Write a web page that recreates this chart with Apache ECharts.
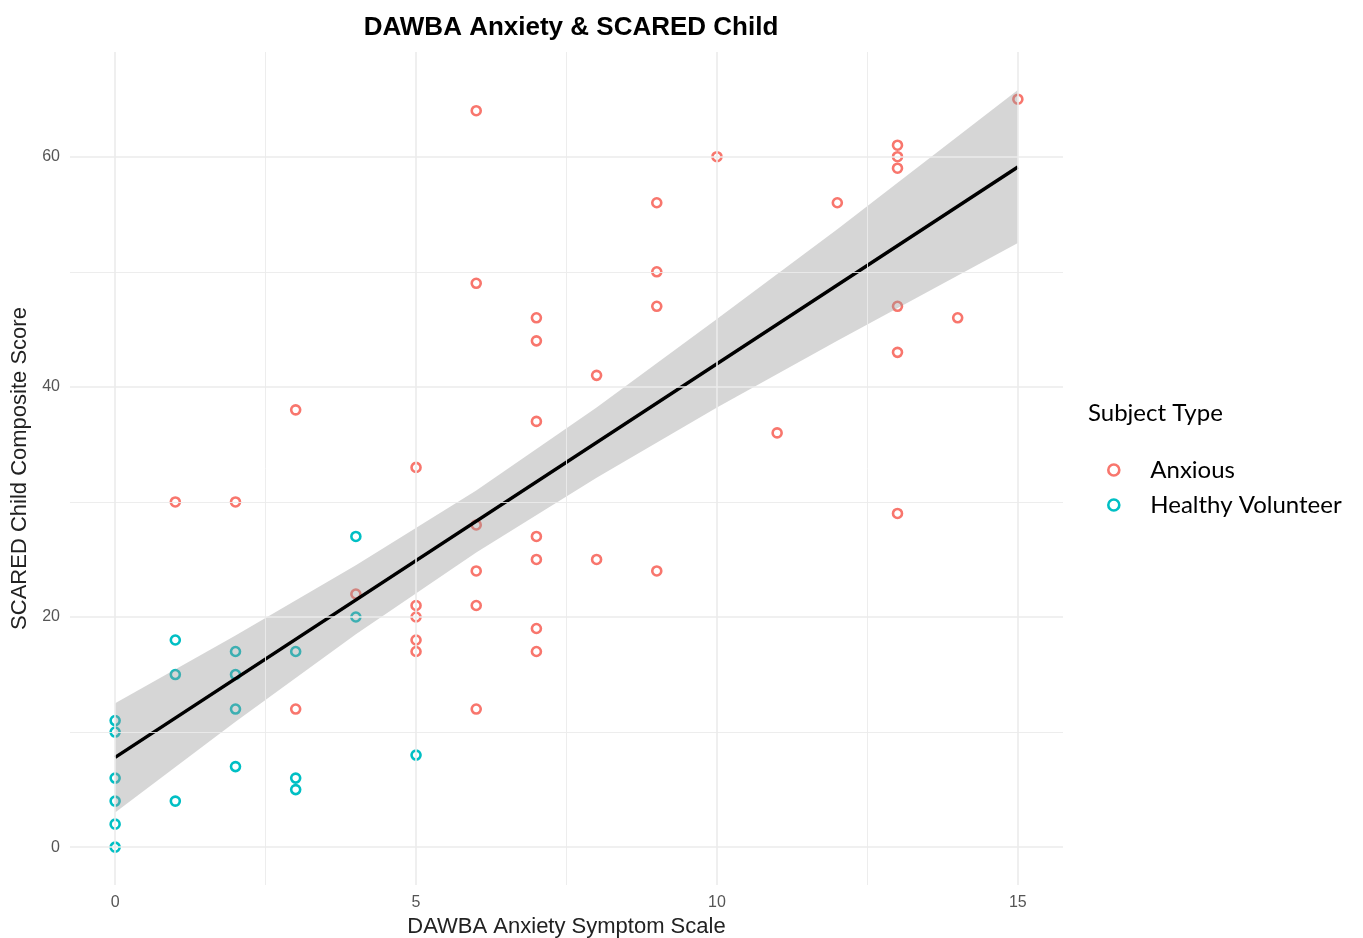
<!DOCTYPE html>
<html>
<head>
<meta charset="utf-8">
<script src="https://cdn.jsdelivr.net/npm/echarts@6/dist/echarts.min.js"></script>
<style>
  html, body { margin: 0; padding: 0; background: #fff; }
  #chart { width: 1363px; height: 938px; }
</style>
</head>
<body>
<div id="chart"></div>
<script>
// puntos del grupo ansioso
const anxiousX = [6, 15, 10, 13, 13, 13, 9, 12, 9, 6, 9, 13, 7, 14, 7, 13, 8, 3, 7, 11, 5, 1, 2, 13, 6, 7, 7, 8, 6, 9, 4, 5, 6, 5, 7, 5, 5, 7, 3, 6];
const anxiousY = [64, 65, 60, 61, 60, 59, 56, 56, 50, 49, 47, 47, 46, 46, 44, 43, 41, 38, 37, 36, 33, 30, 30, 29, 28, 27, 25, 25, 24, 24, 22, 21, 21, 20, 19, 18, 17, 17, 12, 12];

// voluntarios sanos
const healthyX = [4, 4, 1, 2, 3, 1, 2, 2, 0, 0, 5, 2, 0, 3, 3, 0, 1, 0, 0];
const healthyY = [27, 20, 18, 17, 17, 15, 15, 12, 11, 10, 8, 7, 6, 6, 5, 4, 4, 2, 0];

// recta de ajuste y banda de confianza
const fitX = [0, 15];
const fitY = [7.8, 59.1];
const bandX = [0, 2, 4, 6, 8, 10, 12, 15];
const bandLow = [3.0, 10.9, 18.5, 25.6, 32.1, 38.2, 44.0, 52.5];
const bandHigh = [12.5, 18.4, 24.5, 31.0, 38.2, 45.9, 53.7, 65.8];

// ejes
const xTicks = [0, 5, 10, 15];
const xMinor = [2.5, 7.5, 12.5];
const yTicks = [0, 20, 40, 60];
const yMinor = [10, 30, 50];

const zip = (xs, ys) => xs.map((x, i) => [x, ys[i]]);

const chart = echarts.init(document.getElementById("chart"));

const gridLines = [
  ...xTicks.map((v) => ({ xAxis: v, lineStyle: { width: 1.6 } })),
  ...xMinor.map((v) => ({ xAxis: v, lineStyle: { width: 0.9 } })),
  ...yTicks.map((v) => ({ yAxis: v, lineStyle: { width: 1.6 } })),
  ...yMinor.map((v) => ({ yAxis: v, lineStyle: { width: 0.9 } })),
];

chart.setOption({
  animation: false,
  title: [
    {
      text: "DAWBA Anxiety & SCARED Child",
      left: 566,
      top: 10,
      textAlign: "center",
      textStyle: { fontFamily: "Liberation Sans", fontWeight: "bold", fontSize: 26, color: "#000" },
    },
    {
      text: "Subject Type",
      left: 1083,
      top: 396,
      textStyle: { fontFamily: "Lato", fontWeight: "normal", fontSize: 24, color: "#000" },
    },
  ],
  legend: {
    orient: "vertical",
    left: 1102,
    top: 453,
    itemWidth: 11,
    itemHeight: 11,
    itemGap: 11,
    data: ["Anxious", "Healthy Volunteer"],
    itemStyle: { borderWidth: 2.6 },
    textStyle: { fontFamily: "Lato", fontSize: 24, color: "#000", padding: [0, 0, 0, 26] },
  },
  grid: { left: 70, right: 300, top: 52, bottom: 53, outerBoundsMode: "none" },
  xAxis: {
    type: "value",
    min: -0.75,
    max: 15.75,
    name: "DAWBA Anxiety Symptom Scale",
    nameLocation: "middle",
    nameGap: 31,
    nameTextStyle: { fontFamily: "Liberation Sans", fontSize: 22, color: "#222" },
    axisLine: { show: false },
    axisTick: { show: false },
    splitLine: { show: false },
    axisLabel: {
      customValues: xTicks,
      fontFamily: "Liberation Sans",
      fontSize: 16,
      color: "#555",
      margin: 10,
    },
  },
  yAxis: {
    type: "value",
    min: -3.29,
    max: 69.1,
    name: "SCARED Child Composite Score",
    nameLocation: "middle",
    nameGap: 36,
    nameTextStyle: { fontFamily: "Liberation Sans", fontSize: 22, color: "#222" },
    axisLine: { show: false },
    axisTick: { show: false },
    splitLine: { show: false },
    axisLabel: {
      customValues: yTicks,
      fontFamily: "Liberation Sans",
      fontSize: 16,
      color: "#555",
      margin: 10,
    },
  },
  series: [
    {
      name: "grid",
      type: "scatter",
      data: [],
      z: 0,
      silent: true,
      markLine: {
        silent: true,
        symbol: "none",
        label: { show: false },
        lineStyle: { color: "#ebebeb", type: "solid" },
        data: gridLines,
      },
    },
    {
      name: "Anxious",
      type: "scatter",
      symbol: "circle",
      symbolSize: 9,
      z: 2,
      itemStyle: { color: "rgba(255,255,255,0)", borderColor: "#F8766D", borderWidth: 2.6, opacity: 1 },
      data: zip(anxiousX, anxiousY),
    },
    {
      name: "Healthy Volunteer",
      type: "scatter",
      symbol: "circle",
      symbolSize: 9,
      z: 2,
      itemStyle: { color: "rgba(255,255,255,0)", borderColor: "#00BFC4", borderWidth: 2.6, opacity: 1 },
      data: zip(healthyX, healthyY),
    },
    {
      name: "band",
      type: "custom",
      z: 3,
      silent: true,
      data: [[0, 0]],
      renderItem: function (params, api) {
        const top = bandX.map((x, i) => api.coord([x, bandHigh[i]]));
        const bottom = bandX.map((x, i) => api.coord([x, bandLow[i]])).reverse();
        return {
          type: "polygon",
          shape: { points: top.concat(bottom) },
          style: { fill: "rgba(153,153,153,0.4)" },
        };
      },
    },
    {
      name: "fit",
      type: "line",
      z: 4,
      silent: true,
      symbol: "none",
      lineStyle: { color: "#000", width: 3.5 },
      data: zip(fitX, fitY),
    },
  ],
});
</script>
</body>
</html>
